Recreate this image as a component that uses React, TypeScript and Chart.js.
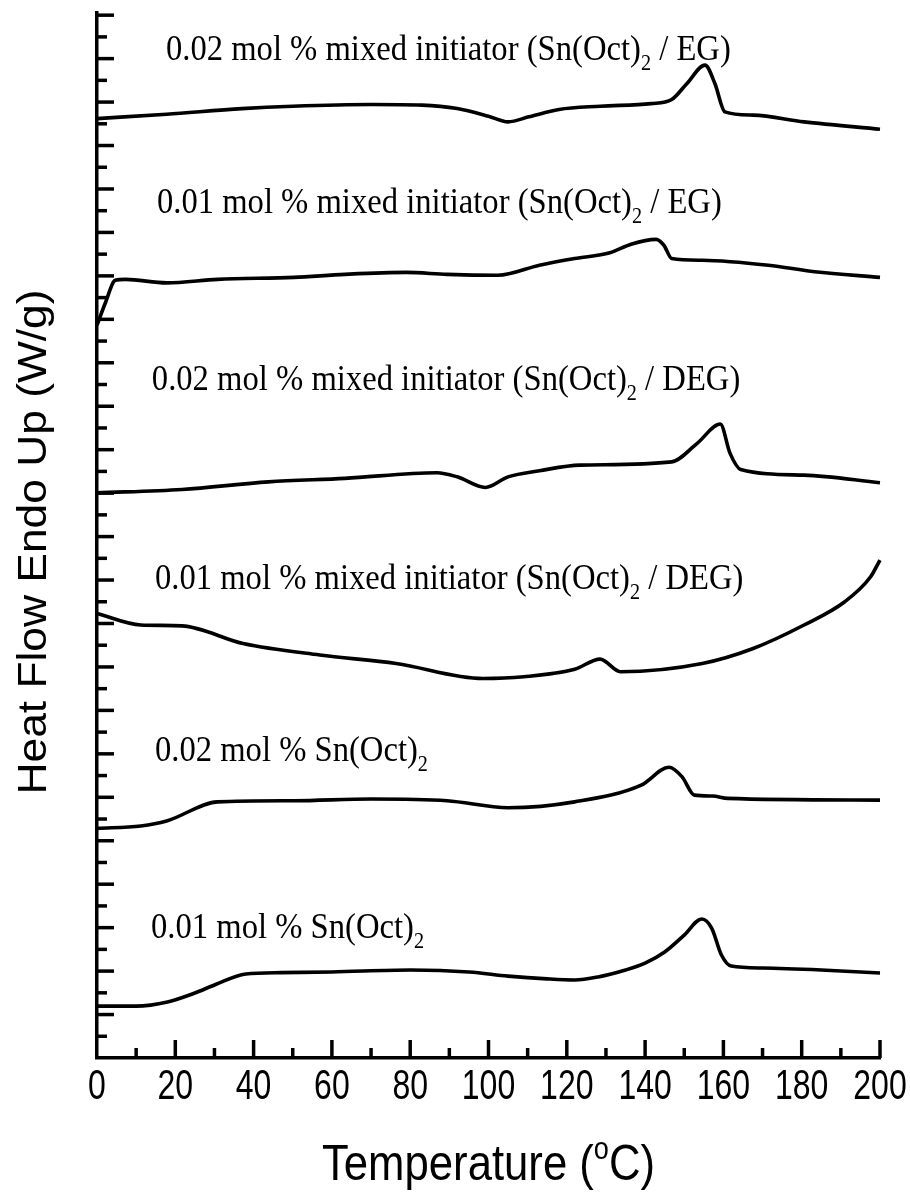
import { useEffect, useRef } from 'react';
import { Chart, registerables } from 'chart.js';

Chart.register(...registerables);

// ---- Data (temperature in °C, heat flow in arbitrary offset units) ----
const CURVE_A_T = [0, 17.8, 37, 50, 70, 83, 92, 100, 105, 110.3, 118, 128.5, 141.5, 146.8, 150.7, 155.3, 157.8, 160.4, 167.6, 180.6, 200];
const CURVE_A_Y = [43.24, 43.44, 43.7, 43.81, 43.89, 43.86, 43.7, 43.35, 43.09, 43.32, 43.66, 43.81, 43.93, 44.12, 44.86, 45.7, 44.87, 43.55, 43.4, 43.09, 42.75];

const CURVE_B_T = [0, 2.1, 4.7, 7.3, 17.8, 30.8, 50.3, 63.3, 79, 89.4, 102.4, 113, 122, 131, 136.4, 142.8, 144.8, 146.8, 154.6, 171.5, 183.3, 200];
const CURVE_B_Y = [33.73, 34.74, 35.8, 35.84, 35.68, 35.84, 35.93, 36.07, 36.16, 36.07, 36.03, 36.49, 36.8, 37.06, 37.46, 37.68, 37.41, 36.8, 36.72, 36.49, 36.19, 35.93];

const CURVE_C_T = [0, 21.7, 43.8, 63.3, 86.8, 92, 99.2, 105, 113, 123.4, 146.8, 153.3, 159.2, 161.7, 164.4, 180.6, 200];
const CURVE_C_Y = [26.01, 26.17, 26.52, 26.68, 26.94, 26.75, 26.26, 26.75, 27.03, 27.29, 27.44, 28.29, 29.18, 27.83, 27.09, 26.83, 26.48];

const CURVE_D_T = [0, 11.2, 21.7, 37.3, 56.9, 76.4, 98.6, 109, 122, 128.5, 133.7, 154.6, 167.6, 180.6, 191, 197.6, 200];
const CURVE_D_Y = [20.46, 19.93, 19.89, 19.08, 18.55, 18.16, 17.47, 17.55, 17.89, 18.36, 17.78, 18.16, 18.85, 19.93, 21.0, 22.15, 22.92];

const CURVE_E_T = [0, 11.2, 17.8, 30.8, 50.3, 70, 89.4, 105, 122, 139, 146.1, 149.4, 152.6, 157.2, 161.1, 200];
const CURVE_E_Y = [10.57, 10.68, 10.91, 11.79, 11.84, 11.92, 11.84, 11.52, 11.79, 12.56, 13.38, 12.95, 12.1, 12.06, 11.95, 11.87];

const CURVE_F_T = [0, 10, 18, 25, 30, 38, 47, 60, 80, 95, 105, 115, 122, 128, 135, 140, 145, 150, 154.5, 157, 159.5, 162, 170, 185, 200];
const CURVE_F_Y = [2.39, 2.39, 2.58, 2.99, 3.36, 3.87, 3.93, 3.96, 4.05, 3.96, 3.77, 3.64, 3.59, 3.73, 4.05, 4.37, 4.88, 5.66, 6.4, 5.98, 4.74, 4.23, 4.14, 4.05, 3.91];

const X_TICKS = [0, 20, 40, 60, 80, 100, 120, 140, 160, 180, 200];

const LABEL_HEAD = [
  '0.02 mol % mixed initiator (Sn(Oct)',
  '0.01 mol % mixed initiator (Sn(Oct)',
  '0.02 mol % mixed initiator (Sn(Oct)',
  '0.01 mol % mixed initiator (Sn(Oct)',
  '0.02 mol % Sn(Oct)',
  '0.01 mol % Sn(Oct)',
];
const LABEL_SUB = ['2', '2', '2', '2', '2', '2'];
const LABEL_TAIL = [' / EG)', ' / EG)', ' / DEG)', ' / DEG)', '', ''];
// anchor of each label in data coordinates (temperature, heat flow)
const LABEL_AT_T = [17.6, 15.3, 14.0, 14.8, 14.8, 13.8];
const LABEL_AT_Y = [45.93, 38.89, 30.74, 21.58, 13.67, 5.52];

const X_TITLE = 'Temperature (';
const X_TITLE_SUP = 'o';
const X_TITLE_END = 'C)';
const Y_TITLE = 'Heat Flow Endo Up (W/g)';

const SERIES_T = [CURVE_A_T, CURVE_B_T, CURVE_C_T, CURVE_D_T, CURVE_E_T, CURVE_F_T];
const SERIES_Y = [CURVE_A_Y, CURVE_B_Y, CURVE_C_Y, CURVE_D_Y, CURVE_E_Y, CURVE_F_Y];

type Part = { text: string; mode?: 'sub' | 'sup' };

function drawParts(
  ctx: CanvasRenderingContext2D,
  parts: Part[],
  family: string,
  size: number,
  x: number,
  baseline: number,
  hs: number,
  vs: number,
  align: 'left' | 'center'
) {
  ctx.save();
  ctx.textAlign = 'left';
  ctx.textBaseline = 'alphabetic';
  ctx.fillStyle = '#000';
  let natural = 0;
  for (const p of parts) {
    const s = p.mode ? size * 0.62 : size;
    ctx.font = `${s}px ${family}`;
    natural += ctx.measureText(p.text).width;
  }
  const startX = align === 'center' ? x - (natural * hs) / 2 : x;
  ctx.translate(startX, baseline);
  ctx.scale(hs, vs);
  let cx = 0;
  for (const p of parts) {
    const s = p.mode ? size * 0.62 : size;
    ctx.font = `${s}px ${family}`;
    const dy = p.mode === 'sub' ? size * 0.28 : p.mode === 'sup' ? -size * 0.42 : 0;
    ctx.fillText(p.text, cx, dy);
    cx += ctx.measureText(p.text).width;
  }
  ctx.restore();
}

const decorPlugin = {
  id: 'dscDecor',
  afterDraw(chart: any) {
    const ctx: CanvasRenderingContext2D = chart.ctx;
    const xs = chart.scales.x;
    const ys = chart.scales.y;
    const left = chart.chartArea.left;
    const bottom = chart.chartArea.bottom;
    ctx.save();
    ctx.strokeStyle = '#000';
    ctx.lineWidth = 3.5;
    ctx.lineCap = 'butt';
    // y ticks (inward)
    for (let k = 1; k <= 48; k++) {
      const py = ys.getPixelForValue(k);
      const len = k % 2 === 0 ? 17 : 10;
      ctx.beginPath();
      ctx.moveTo(left, py);
      ctx.lineTo(left + len, py);
      ctx.stroke();
    }
    // x ticks (inward)
    for (let t = 10; t <= 200; t += 10) {
      const px = xs.getPixelForValue(t);
      const len = t % 20 === 0 ? 18 : 10;
      ctx.beginPath();
      ctx.moveTo(px, bottom);
      ctx.lineTo(px, bottom - len);
      ctx.stroke();
    }
    ctx.restore();

    // x tick labels
    for (const t of X_TICKS) {
      drawParts(ctx, [{ text: String(t) }], '"Liberation Sans", Arial, sans-serif', 32, xs.getPixelForValue(t), bottom + 41, 1.0, 1.3, 'center');
    }
    // x title
    drawParts(
      ctx,
      [{ text: X_TITLE }, { text: X_TITLE_SUP, mode: 'sup' }, { text: X_TITLE_END }],
      '"Liberation Sans", Arial, sans-serif',
      42,
      (xs.left + xs.right) / 2,
      bottom + 122,
      1.04,
      1.2,
      'center'
    );
    // y title (rotated)
    ctx.save();
    ctx.translate(46, 542);
    ctx.rotate(-Math.PI / 2);
    ctx.font = '40px "Liberation Sans", Arial, sans-serif';
    const nat = ctx.measureText(Y_TITLE).width;
    const hs = 505 / nat;
    drawParts(ctx, [{ text: Y_TITLE }], '"Liberation Sans", Arial, sans-serif', 40, 0, 0, hs, 1.0, 'center');
    ctx.restore();

    // curve labels
    for (let i = 0; i < LABEL_HEAD.length; i++) {
      const parts: Part[] = [{ text: LABEL_HEAD[i] }, { text: LABEL_SUB[i], mode: 'sub' }];
      if (LABEL_TAIL[i]) parts.push({ text: LABEL_TAIL[i] });
      drawParts(
        ctx,
        parts,
        '"Liberation Serif", "Times New Roman", serif',
        32,
        xs.getPixelForValue(LABEL_AT_T[i]),
        ys.getPixelForValue(LABEL_AT_Y[i]),
        1.02,
        1.15,
        'left'
      );
    }
  },
};

export default function App() {
  const ref = useRef<HTMLCanvasElement>(null);
  useEffect(() => {
    const canvas = ref.current;
    if (!canvas) return;
    const datasets = SERIES_T.map((ts, i) => ({
      label: 'curve' + (i + 1),
      data: ts.map((t, j) => ({ x: t, y: SERIES_Y[i][j] })),
      borderColor: '#000',
      backgroundColor: '#000',
      borderWidth: 3.6,
      pointRadius: 0,
      fill: false,
      cubicInterpolationMode: 'monotone' as const,
      clip: 6,
    }));
    const chart = new Chart(canvas, {
      type: 'line',
      data: { datasets },
      options: {
        responsive: false,
        maintainAspectRatio: false,
        devicePixelRatio: 1,
        animation: false,
        layout: { padding: { left: 97, right: 30, top: 13, bottom: 136 } },
        plugins: { legend: { display: false }, tooltip: { enabled: false } },
        scales: {
          x: {
            type: 'linear',
            min: 0,
            max: 200,
            grid: { display: false, drawTicks: false },
            ticks: { display: false },
            border: { display: true, color: '#000', width: 3.5 },
          },
          y: {
            type: 'linear',
            min: 0,
            max: 48.1,
            grid: { display: false, drawTicks: false },
            ticks: { display: false },
            border: { display: true, color: '#000', width: 3.5 },
          },
        },
      },
      plugins: [decorPlugin],
    });
    return () => chart.destroy();
  }, []);
  return (
    <div style={{ position: 'absolute', left: 0, top: 0, width: 910, height: 1194, background: '#fff' }}>
      <canvas ref={ref} width={910} height={1194} style={{ display: 'block', width: 910, height: 1194 }} />
    </div>
  );
}
